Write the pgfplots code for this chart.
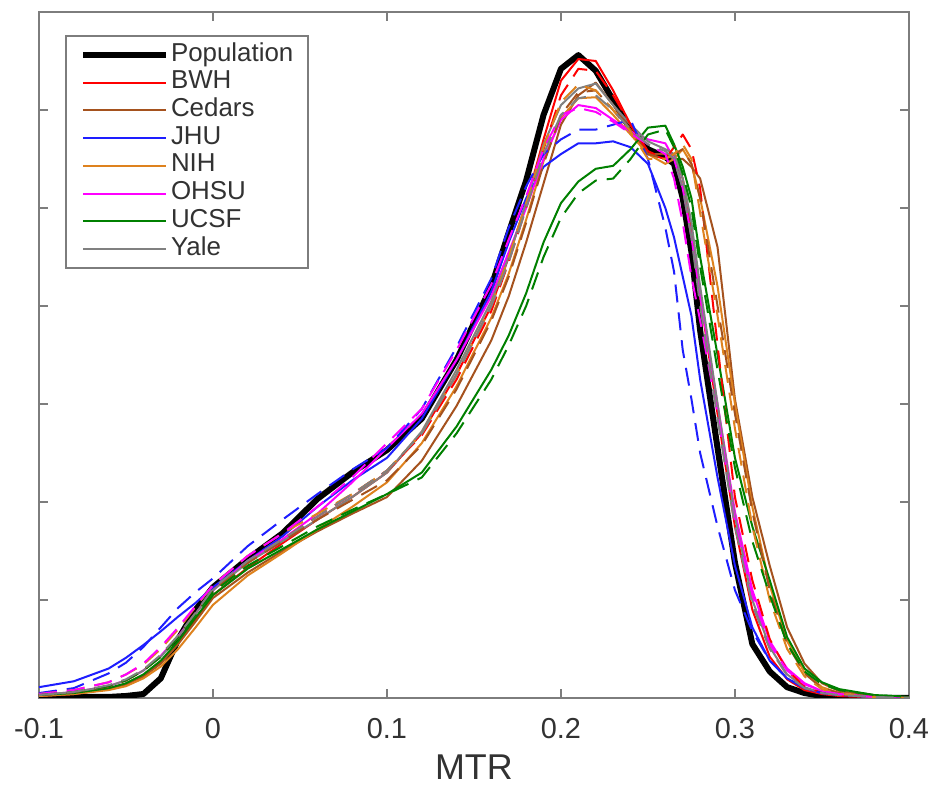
\documentclass[border=0pt]{standalone}
\usepackage{fontspec}
\setmainfont{Liberation Sans}
\usepackage{pgfplots}
\usepackage{pgfplotstable}
\pgfplotsset{compat=1.18}

\definecolor{bwh}{RGB}{255,0,0}
\definecolor{ced}{RGB}{165,82,30}
\definecolor{jhu}{RGB}{30,30,255}
\definecolor{nih}{RGB}{222,130,30}
\definecolor{ohsu}{RGB}{255,0,255}
\definecolor{ucsf}{RGB}{0,128,0}
\definecolor{yale}{RGB}{128,128,128}
\definecolor{axgray}{RGB}{125,125,125}
\definecolor{txt}{RGB}{50,50,50}

% MTR histograms: population + each site (solid / dashed)
\pgfplotstableread{
x      pop   bwh   bwhd  ced   cedd  jhu   jhud  nih   nihd  ohsu  ohsud ucsf  ucsfd yale  yaled
-0.100 0.01  0.02  0.03  0.02  0.03  0.11  0.05  0.02  0.04  0.03  0.04  0.03  0.03  0.03  0.03
-0.080 0.01  0.04  0.06  0.04  0.06  0.17  0.10  0.04  0.08  0.06  0.08  0.05  0.06  0.06  0.06
-0.060 0.01  0.09  0.12  0.09  0.12  0.30  0.25  0.08  0.16  0.12  0.16  0.10  0.12  0.12  0.13
-0.050 0.02  0.14  0.18  0.14  0.18  0.41  0.36  0.12  0.24  0.18  0.24  0.15  0.18  0.18  0.19
-0.040 0.04  0.22  0.28  0.22  0.28  0.54  0.52  0.20  0.34  0.28  0.35  0.24  0.28  0.28  0.29
-0.030 0.20  0.36  0.43  0.35  0.42  0.68  0.72  0.32  0.50  0.43  0.52  0.38  0.42  0.42  0.44
-0.020 0.60  0.56  0.63  0.55  0.62  0.83  0.92  0.50  0.70  0.63  0.72  0.58  0.62  0.62  0.64
-0.010 0.90  0.80  0.87  0.78  0.86  0.97  1.08  0.72  0.93  0.86  0.94  0.82  0.85  0.86  0.87
0.000  1.13  1.05  1.10  1.02  1.10  1.13  1.22  0.95  1.15  1.10  1.15  1.05  1.08  1.10  1.12
0.020  1.42  1.33  1.38  1.28  1.38  1.40  1.55  1.25  1.45  1.40  1.45  1.32  1.35  1.38  1.40
0.040  1.68  1.58  1.62  1.50  1.60  1.65  1.82  1.48  1.68  1.62  1.68  1.52  1.55  1.60  1.62
0.060  2.03  1.82  1.85  1.70  1.82  1.95  2.08  1.72  1.88  1.88  1.95  1.72  1.75  1.82  1.85
0.080  2.30  2.05  2.08  1.88  2.02  2.22  2.33  1.95  2.08  2.20  2.25  1.90  1.92  2.05  2.08
0.100  2.53  2.30  2.32  2.05  2.22  2.45  2.55  2.20  2.32  2.55  2.60  2.08  2.08  2.30  2.32
0.120  2.85  2.70  2.68  2.42  2.58  2.85  2.95  2.60  2.70  2.90  2.95  2.30  2.25  2.72  2.70
0.140  3.45  3.30  3.25  2.98  3.15  3.45  3.58  3.18  3.30  3.45  3.55  2.77  2.70  3.35  3.30
0.160  4.20  4.00  3.95  3.65  3.85  4.15  4.28  3.88  4.00  4.10  4.22  3.35  3.25  4.05  4.00
0.170  4.75  4.50  4.45  4.10  4.30  4.65  4.80  4.33  4.50  4.55  4.68  3.70  3.60  4.50  4.45
0.180  5.28  5.05  5.00  4.65  4.85  5.10  5.22  4.88  5.05  5.00  5.12  4.13  4.00  5.05  5.00
0.190  5.95  5.70  5.60  5.25  5.45  5.42  5.55  5.48  5.62  5.50  5.60  4.65  4.50  5.65  5.55
0.200  6.42  6.30  6.15  5.85  5.95  5.55  5.70  5.92  6.08  5.90  5.95  5.05  4.90  6.05  5.95
0.210  6.56  6.52  6.42  6.15  6.18  5.66  5.80  6.12  6.26  6.05  6.02  5.27  5.15  6.22  6.12
0.220  6.40  6.50  6.40  6.28  6.20  5.66  5.80  6.13  6.20  6.02  5.98  5.40  5.28  6.27  6.15
0.230  6.10  6.20  6.15  6.05  6.00  5.68  5.85  5.95  6.00  5.90  5.88  5.43  5.30  6.05  6.00
0.240  5.80  5.85  5.85  5.80  5.78  5.62  5.90  5.75  5.78  5.78  5.76  5.60  5.50  5.85  5.80
0.250  5.60  5.55  5.58  5.55  5.55  5.45  5.50  5.55  5.50  5.70  5.65  5.82  5.75  5.68  5.65
0.260  5.52  5.50  5.50  5.55  5.50  5.00  4.80  5.45  5.50  5.66  5.55  5.84  5.80  5.60  5.58
0.265  5.45  5.55  5.62  5.50  5.55  4.70  4.35  5.50  5.55  5.50  5.30  5.65  5.62  5.55  5.50
0.270  5.10  5.30  5.75  5.50  5.60  4.30  3.55  5.60  5.65  5.20  4.85  5.42  5.35  5.30  5.20
0.275  4.55  4.80  5.60  5.42  5.45  3.90  3.05  5.45  5.50  4.70  4.30  5.10  5.00  4.85  4.70
0.280  3.75  4.10  5.20  5.30  5.10  3.25  2.50  5.10  4.95  4.10  3.85  4.50  4.40  4.20  4.00
0.290  2.55  2.90  3.60  4.60  4.00  2.25  1.75  4.20  3.90  3.00  2.90  3.50  3.35  3.00  2.85
0.300  1.38  1.75  2.05  3.05  2.90  1.35  1.10  3.00  2.75  1.90  1.80  2.45  2.35  1.85  1.75
0.310  0.55  0.90  1.20  2.05  1.90  0.72  0.68  1.95  1.75  1.10  1.05  1.75  1.60  1.00  0.95
0.320  0.27  0.42  0.60  1.35  1.10  0.38  0.38  1.15  1.00  0.58  0.55  1.20  1.05  0.52  0.50
0.330  0.11  0.19  0.28  0.72  0.55  0.20  0.20  0.58  0.50  0.30  0.28  0.62  0.55  0.24  0.23
0.340  0.05  0.08  0.12  0.35  0.25  0.10  0.10  0.26  0.22  0.15  0.14  0.30  0.27  0.11  0.10
0.350  0.02  0.04  0.05  0.15  0.10  0.05  0.05  0.11  0.09  0.07  0.07  0.16  0.14  0.05  0.05
0.360  0.01  0.02  0.02  0.07  0.05  0.03  0.03  0.05  0.04  0.04  0.04  0.09  0.08  0.03  0.03
0.380  0.00  0.01  0.01  0.02  0.01  0.01  0.01  0.01  0.01  0.01  0.01  0.03  0.03  0.01  0.01
0.400  0.00  0.00  0.00  0.00  0.00  0.00  0.00  0.00  0.00  0.00  0.00  0.01  0.01  0.00  0.00
}\mtr

\begin{document}
\begin{tikzpicture}
\begin{axis}[
    name=ax,
    scale only axis,
    width=435bp, height=343bp,
    xmin=-0.1, xmax=0.4, ymin=0, ymax=7,
    xtick={-0.1,0,0.1,0.2,0.3,0.4},
    xticklabels={-0.1,0,0.1,0.2,0.3,0.4},
    ytick={0,1,...,7}, yticklabels={},
    tick align=inside, tick pos=both,
    major tick length=4.5bp,
    axis line style={axgray, line width=1bp},
    every tick/.style={axgray, line width=1bp},
    xticklabel style={font=\fontsize{14.5}{16}\selectfont, text=txt, inner sep=1bp, yshift=-9bp},
    xlabel={MTR},
    xlabel style={font=\fontsize{18}{20}\selectfont, text=txt, inner sep=0pt,
        at={(axis description cs:0.5,0)}, anchor=base, yshift=-41bp},
    legend cell align=left,
    legend image code/.code={\draw[#1] (0bp,0bp) -- (41.5bp,0bp);},
    legend style={at={(axis description cs:0.0299,0.9665)}, anchor=north west,
        draw=axgray, line width=1bp, fill=white,
        inner xsep=7bp, inner ysep=2.6bp, row sep=0pt, column sep=0.5bp,
        font=\fontsize{13}{15}\selectfont, text=txt,
        nodes={inner sep=0.5bp, text height=9.5bp, text depth=3.35bp}},
    every axis plot/.append style={line width=1bp, line join=round},
]
\addplot[black, line width=3bp] table[x=x, y=pop] {\mtr};
\addlegendentry{Population}
\addplot[bwh] table[x=x, y=bwh] {\mtr};
\addlegendentry{BWH}
\addplot[ced] table[x=x, y=ced] {\mtr};
\addlegendentry{Cedars}
\addplot[jhu] table[x=x, y=jhu] {\mtr};
\addlegendentry{JHU}
\addplot[nih] table[x=x, y=nih] {\mtr};
\addlegendentry{NIH}
\addplot[ohsu] table[x=x, y=ohsu] {\mtr};
\addlegendentry{OHSU}
\addplot[ucsf] table[x=x, y=ucsf] {\mtr};
\addlegendentry{UCSF}
\addplot[yale] table[x=x, y=yale] {\mtr};
\addlegendentry{Yale}
% dashed companions
\addplot[bwh, dash pattern=on 9bp off 5bp, forget plot] table[x=x, y=bwhd] {\mtr};
\addplot[ced, dash pattern=on 9bp off 5bp, forget plot] table[x=x, y=cedd] {\mtr};
\addplot[jhu, dash pattern=on 9bp off 5bp, forget plot] table[x=x, y=jhud] {\mtr};
\addplot[nih, dash pattern=on 9bp off 5bp, forget plot] table[x=x, y=nihd] {\mtr};
\addplot[ohsu, dash pattern=on 9bp off 5bp, forget plot] table[x=x, y=ohsud] {\mtr};
\addplot[ucsf, dash pattern=on 9bp off 5bp, forget plot] table[x=x, y=ucsfd] {\mtr};
\addplot[yale, dash pattern=on 9bp off 5bp, forget plot] table[x=x, y=yaled] {\mtr};
\end{axis}
\path ([xshift=-19.5bp,yshift=-44.5bp]ax.south west) rectangle ([xshift=11bp,yshift=6bp]ax.north east);
\end{tikzpicture}
\end{document}
